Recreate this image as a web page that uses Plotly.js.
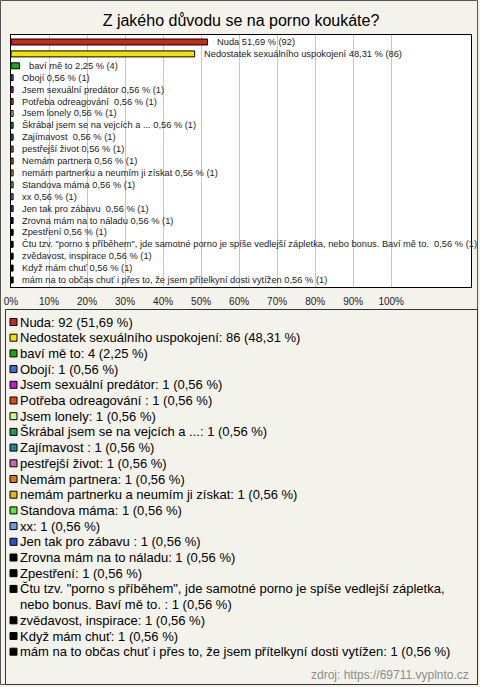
<!DOCTYPE html>
<html><head><meta charset="utf-8">
<script src="https://cdn.plot.ly/plotly-3.0.1.min.js"></script>
<style>html,body{margin:0;padding:0;background:#f4f3eb;} #chart{width:480px;height:687px;}</style>
</head><body><div id="chart"></div>
<script>
const categories = ["Nuda","Nedostatek sexuálního uspokojení","baví mě to","Obojí","Jsem sexuální predátor","Potřeba odreagování ","Jsem lonely","Škrábal jsem se na vejcích a ...","Zajímavost ","pestřejší život","Nemám partnera","nemám partnerku a neumím ji získat","Standova máma","xx","Jen tak pro zábavu ","Zrovna mám na to náladu","Zpestření","Čtu tzv. \"porno s příběhem\", jde samotné porno je spíše vedlejší zápletka, nebo bonus. Baví mě to. ","zvědavost, inspirace","Když mám chuť","mám na to občas chuť i přes to, že jsem přítelkyní dosti vytížen"];
const counts = [92,86,4,1,1,1,1,1,1,1,1,1,1,1,1,1,1,1,1,1,1];
const percents = [51.69,48.31,2.25,0.56,0.56,0.56,0.56,0.56,0.56,0.56,0.56,0.56,0.56,0.56,0.56,0.56,0.56,0.56,0.56,0.56,0.56];
const colors = ["#c42a1c","#f2e20a","#1ca51c","#3d6ee6","#c41ccc","#e0461a","#c8f598","#1f9a5e","#1f8394","#c466c4","#e0761a","#e0b41a","#5ae63d","#6a9ae6","#2a52c4","#000000","#000000","#000000","#000000","#000000","#000000"];
const tickValues = [0,10,20,30,40,50,60,70,80,90,100];
const tickLabels = ["0%","10%","20%","30%","40%","50%","60%","70%","80%","90%","100%"];
const titleText = "Z jakého důvodu se na porno koukáte?";
const sourceText = "zdroj: https://69711.vyplnto.cz";

const fmt = v => v.toFixed(2).replace('.', ',');
const L = 11, T = 35, PB = 287; // plot-left px, plot-top px, plot-bottom px

const annotations = [];
const shapes = [];
// labels next to bars
categories.forEach((c, i) => {
  annotations.push({x: percents[i], y: c, xref: 'x', yref: 'y', xanchor: 'left', yanchor: 'middle',
    xshift: 7, showarrow: false, text: c + ' ' + fmt(percents[i]) + ' % (' + counts[i] + ')',
    font: {family: 'Liberation Sans, Arial, sans-serif', size: 9.3, color: '#222'}});
});
// legend below
let line = 0;
const lineStep = 15.7, firstLine = 322;
categories.forEach((c, i) => {
  let full = c + ': ' + counts[i] + ' (' + fmt(percents[i]) + ' %)';
  let parts = full.indexOf(', nebo') > 0 ? full.replace(', nebo', ',\nnebo').split('\n') : [full];
  const cy = firstLine + line * lineStep;
  shapes.push({type: 'rect', xref: 'paper', yref: 'paper', xsizemode: 'pixel', ysizemode: 'pixel',
    xanchor: 0, yanchor: 0, x0: -1, x1: 6, y0: PB - (cy + 3.5), y1: PB - (cy - 3.5),
    fillcolor: colors[i], line: {color: '#000', width: 1}});
  parts.forEach(p => {
    const y = firstLine + line * lineStep;
    annotations.push({x: 0, y: 0, xref: 'paper', yref: 'paper', xanchor: 'left', yanchor: 'middle',
      xshift: 18 - L, yshift: PB - y, showarrow: false, text: p,
      font: {family: 'Liberation Sans, Arial, sans-serif', size: 13, color: '#000'}});
    line++;
  });
});
annotations.push({x: 1, y: 0, xref: 'paper', yref: 'paper', xanchor: 'right', yanchor: 'middle',
  yshift: PB - 675, showarrow: false, text: sourceText,
  font: {family: 'Liberation Sans, Arial, sans-serif', size: 12, color: '#8c8c8c'}});
// frames
shapes.push({type: 'rect', xref: 'paper', yref: 'paper', xsizemode: 'pixel', ysizemode: 'pixel',
  xanchor: 0, yanchor: 0, x0: 0.5 - L, x1: 477.5 - L, y0: PB - 684.5, y1: PB - 0.5,
  line: {color: '#555', width: 1}, fillcolor: 'rgba(0,0,0,0)', layer: 'below'});
shapes.push({type: 'rect', xref: 'paper', yref: 'paper', xsizemode: 'pixel', ysizemode: 'pixel',
  xanchor: 0, yanchor: 0, x0: 5.5 - L, x1: 477.5 - L, y0: PB - 684.5, y1: PB - 309.5,
  line: {color: '#333', width: 1}, fillcolor: 'rgba(0,0,0,0)', layer: 'below'});

const trace = {type: 'bar', orientation: 'h', x: percents, y: categories, width: 0.5,
  marker: {color: colors, line: {color: '#000', width: 1}}, hoverinfo: 'skip', showlegend: false};

const layout = {
  width: 480, height: 687,
  margin: {l: L, r: 480 - 471, t: T, b: 687 - PB, pad: 0},
  paper_bgcolor: '#f4f3eb', plot_bgcolor: '#ffffff',
  font: {family: 'Liberation Sans, Arial, sans-serif', color: '#000'},
  title: {text: titleText, x: 0.5, xref: 'paper', y: 1 - 20 / 687, yref: 'container', yanchor: 'middle',
    font: {size: 16, color: '#000', family: 'Liberation Sans, Arial, sans-serif'}},
  xaxis: {range: [0, 121], tickvals: tickValues, ticktext: tickLabels, showgrid: true, gridcolor: '#c8c8c8',
    gridwidth: 1, zeroline: false, showline: true, mirror: true, linecolor: '#000', linewidth: 1,
    ticks: '', tickfont: {size: 10, color: '#222'}, ticklabelstandoff: 5, fixedrange: true},
  yaxis: {type: 'category', autorange: 'reversed', showticklabels: false, showgrid: false, zeroline: false,
    showline: true, mirror: true, linecolor: '#000', linewidth: 1, ticks: '', fixedrange: true},
  showlegend: false,
  annotations: annotations,
  shapes: shapes
};
Plotly.newPlot('chart', [trace], layout, {displayModeBar: false, staticPlot: true});
</script>
</body></html>
